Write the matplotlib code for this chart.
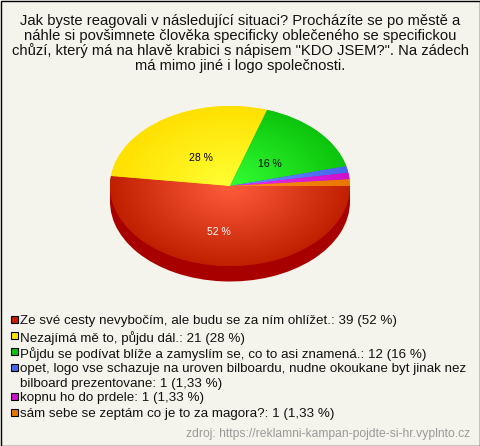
import numpy as np
import matplotlib
matplotlib.use("Agg")
import matplotlib.pyplot as plt
from matplotlib.patches import Rectangle
from matplotlib.colors import LinearSegmentedColormap

plt.rcParams['font.family'] = ['Liberation Sans', 'DejaVu Sans']

title_text = ('Jak byste reagovali v následující situaci? Procházíte se po městě a\n'
              'náhle si povšimnete člověka specificky oblečeného se specifickou\n'
              'chůzí, který má na hlavě krabici s nápisem "KDO JSEM?". Na zádech\n'
              'má mimo jiné i logo společnosti.')
categories = ['Ze své cesty nevybočím, ale budu se za ním ohlížet.',
              'Nezajímá mě to, půjdu dál.',
              'Půjdu se podívat blíže a zamyslím se, co to asi znamená.',
              'opet, logo vse schazuje na uroven bilboardu, nudne okoukane byt jinak nez\nbilboard prezentovane',
              'kopnu ho do prdele',
              'sám sebe se zeptám co je to za magora?']
counts = [39, 21, 12, 1, 1, 1]
percent_text = ['52 %', '28 %', '16 %', '1,33 %', '1,33 %', '1,33 %']
source_text = 'zdroj: https://reklamni-kampan-pojdte-si-hr.vyplnto.cz'

W, H = 480, 446
BG = '#F5F4EC'
edge_cols = ['#C02000', '#FFE000', '#0CC40C', '#4466EE', '#CC10CC', '#E87800']
center_cols = ['#FF5C3C', '#FFFF33', '#33FF33', '#6A90FF', '#F030F0', '#FF9020']
legend_cols = ['#C42000', '#FFE000', '#0CC00C', '#4466EE', '#CC10CC', '#E87800']
SIDE = '#A80000'
CX, CY, RX, RY, DEPTH = 230, 186, 120, 80, 15.5

fig = plt.figure(figsize=(W / 100, H / 100), dpi=100, facecolor=BG)

# pixel-coordinate overlay for text and frame
ov = fig.add_axes([0, 0, 1, 1], zorder=3)
ov.set_xlim(0, W); ov.set_ylim(H, 0); ov.axis('off'); ov.patch.set_alpha(0)
ov.add_patch(Rectangle((0.5, 0.5), W - 1, H - 1, fill=False, ec='black', lw=1.0))

# pie axes: data units of one radius, mapped onto the pixel ellipse
ax = fig.add_axes([(CX - 1.2 * RX) / W, 1 - (CY + 1.5 * RY) / H,
                   2.4 * RX / W, 3.0 * RY / H], zorder=1)
d = DEPTH / RY

# side wall
side, _ = ax.pie(counts, startangle=0, counterclock=False, colors=[SIDE] * 6,
                 center=(0, -d), radius=1)
gx, gy = np.meshgrid(np.linspace(-1.02, 1.02, 300), np.linspace(-1.02, 1.02, 300))
rr = np.clip(np.hypot(gx, gy), 0, 1)

wedges, _, autotexts = ax.pie(counts, startangle=0, counterclock=False, colors=edge_cols,
                              radius=1, autopct=lambda p: '', pctdistance=0.6)
ax.add_patch(Rectangle((-1, -d), 2, d, fc=SIDE, ec='none', zorder=0.5))
for w in side:
    w.set_edgecolor('none')
    w.set_zorder(0.6)
for w, c0, c1 in zip(wedges, center_cols, edge_cols):
    w.set_edgecolor('none')
    w.set_zorder(1)
    cmap = LinearSegmentedColormap.from_list('g', [c0, c1])
    im = ax.imshow(rr, cmap=cmap, vmin=0, vmax=1, extent=(-1.02, 1.02, -1.02, 1.02),
                   origin='lower', interpolation='bilinear', zorder=1.5, aspect='auto')
    im.set_clip_path(w)
ax.set_aspect('auto')
ax.set_xlim(-1.2, 1.2)
ax.set_ylim(-1.5, 1.5)
ax.axis('off')

# percentage labels (positions in pixels)
label_xy = [(219, 232), (201, 158), (270, 164)]
label_col = ['white', 'black', 'black']
for s, (x, y), c in zip(percent_text[:3], label_xy, label_col):
    ov.text(x, y, s, ha='center', va='center', fontsize=7.5, color=c)

ov.text(240, 43.5, title_text, ha='center', va='center', fontsize=10.65,
        color='#111111', linespacing=1.03)

legend_y = [323, 339, 355, 371, 400, 416]
for cat, n, p, col, y in zip(categories, counts, percent_text, legend_cols, legend_y):
    ov.add_patch(Rectangle((10.5, y - 7), 7, 7, fc=col, ec='black', lw=0.8))
    ov.text(20, y - 8, f'{cat}: {n} ({p})', ha='left', va='top', fontsize=9.6,
            color='#111111', linespacing=1.3)

ov.text(470, 433.5, source_text, ha='right', va='center', fontsize=8.7, color='#999999')

fig.savefig('out.png', dpi=100, facecolor=BG)
